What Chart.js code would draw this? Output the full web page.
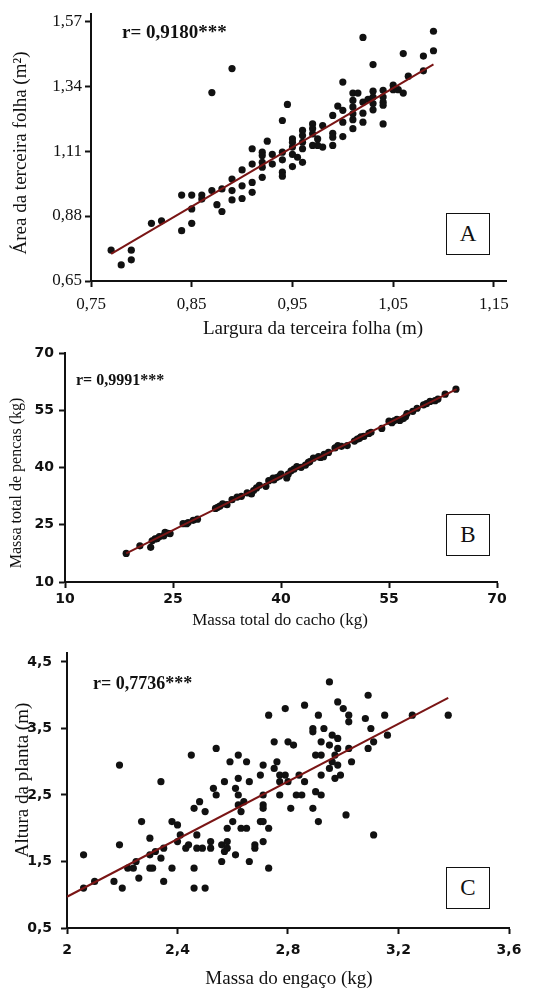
<!DOCTYPE html>
<html lang="pt">
<head>
<meta charset="UTF-8">
<title>Correlações</title>
<script src="https://cdn.jsdelivr.net/npm/chart.js@4.4.0/dist/chart.umd.min.js"></script>
<style>
  body { margin: 0; background: #fff; }
  #wrap { position: relative; width: 543px; height: 990px; font-family: 'Liberation Serif', 'Times New Roman', serif; color: #111; }
  canvas { position: absolute; left: 0; }
  .t { position: absolute; white-space: nowrap; }
  .yt { transform: translate(-50%, -50%) rotate(-90deg); }
  .xt { transform: translate(-50%, -50%); }
  .r { font-weight: bold; transform: translateY(-50%); }
  .box { position: absolute; border: 1.5px solid #111; width: 44px; height: 42px; font-size: 23px; display: flex; align-items: center; justify-content: center; box-sizing: border-box; background: #fff; }
</style>
</head>
<body>
<div id="wrap">
  <canvas id="cA" width="543" height="340" style="top:0"></canvas>
  <canvas id="cB" width="543" height="290" style="top:340px"></canvas>
  <canvas id="cC" width="543" height="360" style="top:630px"></canvas>

  <!-- títulos dos eixos e anotações -->
  <div class="t yt" style="left:20px; top:153px; font-size:19px">Área da terceira folha (m²)</div>
  <div class="t xt" style="left:313px; top:328px; font-size:19px">Largura da terceira folha (m)</div>
  <div class="t r" style="left:122px; top:32px; font-size:19px">r= 0,9180***</div>
  <div class="box" style="left:446px; top:213px">A</div>

  <div class="t yt" style="left:16px; top:483px; font-size:16px">Massa total de pencas (kg)</div>
  <div class="t xt" style="left:280px; top:620px; font-size:17px">Massa total do cacho (kg)</div>
  <div class="t r" style="left:76px; top:380px; font-size:16px">r= 0,9991***</div>
  <div class="box" style="left:446px; top:514px">B</div>

  <div class="t yt" style="left:22px; top:780px; font-size:19px">Altura da planta (m)</div>
  <div class="t xt" style="left:289px; top:978px; font-size:19px">Massa do engaço (kg)</div>
  <div class="t r" style="left:93px; top:683px; font-size:18px">r= 0,7736***</div>
  <div class="box" style="left:446px; top:867px">C</div>
</div>

<script>
// A - largura x área da terceira folha
const widthA = [0.77, 0.78, 0.79, 0.79, 0.81, 0.82, 0.84, 0.84, 0.85, 0.85, 0.85, 0.86, 0.86, 0.87, 0.87, 0.875, 0.88, 0.88,
  0.89, 0.89, 0.89, 0.89, 0.90, 0.90, 0.90, 0.91, 0.91, 0.91, 0.91, 0.92, 0.92, 0.92, 0.92, 0.92, 0.925, 0.93, 0.93,
  0.94, 0.94, 0.94, 0.94, 0.94, 0.945, 0.95, 0.95, 0.95, 0.95, 0.95, 0.955, 0.96, 0.96, 0.96, 0.96, 0.96,
  0.97, 0.97, 0.97, 0.97, 0.975, 0.975, 0.98, 0.98, 0.99, 0.99, 0.99, 0.99, 0.995, 1.00, 1.00, 1.00, 1.00,
  1.01, 1.01, 1.01, 1.01, 1.01, 1.01, 1.015, 1.02, 1.02, 1.02, 1.02, 1.025, 1.03, 1.03, 1.03, 1.03, 1.03,
  1.04, 1.04, 1.04, 1.04, 1.04, 1.05, 1.05, 1.055, 1.06, 1.06, 1.065, 1.08, 1.08, 1.09, 1.09];
const areaA = [0.759, 0.707, 0.759, 0.725, 0.854, 0.863, 0.954, 0.828, 0.954, 0.905, 0.854, 0.954, 0.940, 0.970, 1.317, 0.920, 0.976, 0.896,
  1.402, 1.011, 0.970, 0.937, 1.043, 0.987, 0.942, 1.118, 1.064, 0.999, 0.964, 1.106, 1.094, 1.070, 1.053, 1.017, 1.145, 1.098, 1.064,
  1.218, 1.106, 1.079, 1.035, 1.021, 1.275, 1.153, 1.141, 1.124, 1.098, 1.055, 1.088, 1.183, 1.165, 1.141, 1.118, 1.070,
  1.206, 1.189, 1.171, 1.130, 1.153, 1.130, 1.200, 1.124, 1.236, 1.173, 1.159, 1.130, 1.269, 1.354, 1.254, 1.212, 1.161,
  1.315, 1.289, 1.266, 1.242, 1.221, 1.189, 1.315, 1.512, 1.283, 1.244, 1.212, 1.293, 1.416, 1.322, 1.301, 1.278, 1.256,
  1.325, 1.301, 1.283, 1.272, 1.206, 1.343, 1.327, 1.327, 1.455, 1.315, 1.375, 1.446, 1.394, 1.534, 1.465];
const fitA = [{x: 0.77, y: 0.746}, {x: 1.09, y: 1.417}];
const xTicksA = [0.75, 0.85, 0.95, 1.05, 1.15];
const yTicksA = [0.65, 0.88, 1.11, 1.34, 1.57];

// B - massa do cacho x massa das pencas
const cachoB = [18.5, 20.4, 21.9, 22.1, 22.5, 22.8, 23.1, 23.7, 23.9, 24.3, 24.6, 26.4, 26.9, 27.1, 27.8, 28.4,
  30.9, 31.2, 31.5, 31.9, 32.5, 33.2, 33.9, 34.5, 35.3, 35.9, 36.2, 36.6, 37.0, 37.9, 38.3, 38.9, 39.0, 39.4, 39.8,
  40.0, 40.8, 41.0, 41.4, 41.8, 42.2, 42.8, 43.4, 43.8, 44.0, 44.5, 45.2, 45.5, 45.9, 46.0, 46.6, 47.5, 47.9, 48.4,
  49.2, 50.2, 50.6, 50.9, 51.1, 51.5, 52.2, 52.5, 54.0, 55.0, 55.4, 55.7, 56.1, 56.5, 57.0, 57.3, 57.5, 58.3,
  58.9, 59.8, 60.2, 60.7, 61.4, 61.8, 62.8, 64.3];
const pencasB = [17.5, 19.5, 19.1, 20.8, 21.3, 21.4, 21.9, 22.1, 23.0, 22.8, 22.7, 25.3, 25.3, 25.6, 26.2, 26.5,
  29.3, 29.6, 29.9, 30.5, 30.3, 31.6, 32.3, 32.5, 33.4, 33.1, 34.0, 34.7, 35.4, 35.1, 36.6, 37.3, 36.8, 37.4, 37.8,
  38.3, 37.3, 38.3, 39.2, 39.6, 40.3, 40.1, 40.7, 41.4, 41.6, 42.5, 42.9, 42.7, 42.9, 43.5, 44.0, 45.2, 45.8, 45.6,
  45.8, 47.0, 47.5, 47.7, 48.1, 48.2, 49.0, 49.3, 50.3, 52.2, 51.8, 52.3, 52.7, 52.4, 52.9, 53.4, 54.2, 54.8,
  55.6, 56.5, 56.8, 57.4, 57.6, 58.0, 59.3, 60.6];
const fitB = [{x: 18.5, y: 17.5}, {x: 64.4, y: 60.6}];
const ticksB = [10, 25, 40, 55, 70];

// C - massa do engaço x altura da planta
const engacoC = [2.06, 2.06, 2.10, 2.17, 2.19, 2.19, 2.20, 2.22, 2.24, 2.25, 2.26, 2.27, 2.30, 2.30, 2.30, 2.31, 2.32,
  2.34, 2.34, 2.35, 2.35, 2.38, 2.38, 2.40, 2.40, 2.41, 2.43, 2.44, 2.45, 2.46, 2.46, 2.46, 2.47, 2.47, 2.48, 2.49,
  2.50, 2.50, 2.52, 2.52, 2.53, 2.54, 2.54, 2.56, 2.56, 2.57, 2.57, 2.58, 2.58, 2.58, 2.59, 2.60, 2.61, 2.61,
  2.62, 2.62, 2.62, 2.62, 2.63, 2.63, 2.64, 2.65, 2.65, 2.66, 2.66, 2.68, 2.68, 2.70, 2.70, 2.71, 2.71, 2.71,
  2.71, 2.71, 2.71, 2.73, 2.73, 2.73, 2.75, 2.75, 2.76, 2.77, 2.77, 2.77, 2.79, 2.79, 2.80, 2.80, 2.81, 2.82,
  2.83, 2.84, 2.85, 2.86, 2.86, 2.89, 2.89, 2.89, 2.90, 2.90, 2.91, 2.91, 2.92, 2.92, 2.92, 2.92, 2.93, 2.95,
  2.95, 2.95, 2.96, 2.96, 2.97, 2.97, 2.98, 2.98, 2.98, 2.98, 2.99, 3.00, 3.01, 3.02, 3.02, 3.02, 3.03, 3.08,
  3.09, 3.09, 3.10, 3.11, 3.11, 3.15, 3.16, 3.25, 3.38];
const alturaC = [1.6, 1.1, 1.2, 1.2, 2.95, 1.75, 1.1, 1.4, 1.4, 1.5, 1.25, 2.1, 1.85, 1.6, 1.4, 1.4, 1.65,
  1.55, 2.7, 1.7, 1.2, 1.4, 2.1, 2.05, 1.8, 1.9, 1.7, 1.75, 3.1, 2.3, 1.4, 1.1, 1.9, 1.7, 2.4, 1.7,
  1.1, 2.25, 1.7, 1.8, 2.6, 3.2, 2.5, 1.5, 1.75, 2.7, 1.65, 1.8, 2.0, 1.7, 3.0, 2.1, 2.6, 1.6,
  3.1, 2.75, 2.5, 2.35, 2.25, 2.0, 2.4, 3.0, 2.0, 2.7, 1.5, 1.75, 1.7, 2.1, 2.8, 2.35, 2.3, 2.1,
  1.8, 2.5, 2.95, 3.7, 2.0, 1.4, 2.9, 3.3, 3.0, 2.8, 2.7, 2.5, 2.8, 3.8, 3.3, 2.7, 2.3, 3.25,
  2.5, 2.8, 2.5, 2.7, 3.85, 3.45, 3.5, 2.3, 3.1, 2.55, 3.7, 2.1, 3.3, 3.1, 2.8, 2.5, 3.5, 4.2,
  3.25, 2.9, 3.0, 3.4, 2.75, 3.1, 3.35, 3.9, 3.2, 2.95, 2.8, 3.8, 2.2, 3.6, 3.2, 3.7, 3.0, 3.65,
  4.0, 3.2, 3.5, 3.3, 1.9, 3.7, 3.4, 3.7, 3.7];
const fitC = [{x: 2.0, y: 0.97}, {x: 3.38, y: 3.96}];
const xTicksC = [2, 2.4, 2.8, 3.2, 3.6];
const yTicksC = [0.5, 1.5, 2.5, 3.5, 4.5];

const serif = "'Liberation Serif', 'Times New Roman', serif";
const sansBold = {family: "'DejaVu Sans', sans-serif", size: 14, weight: 'bold'};
const fmt = v => String(v).replace('.', ',');

function pairs(xs, ys) {
  return xs.map((x, i) => ({x: x, y: ys[i]}));
}

function axis(min, max, ticks, font, tickLen, pad, fitFn) {
  return {
    type: 'linear', min: min, max: max,
    afterBuildTicks: s => { s.ticks = ticks.map(v => ({value: v})); },
    afterFit: fitFn,
    grid: { drawOnChartArea: false, color: '#111', tickColor: '#111', tickWidth: 2, tickLength: tickLen },
    border: { display: true, color: '#111', width: 2 },
    ticks: { color: '#111', font: font, padding: pad, callback: v => fmt(v) }
  };
}

function makeChart(id, xs, ys, fit, cfg) {
  return new Chart(document.getElementById(id), {
    type: 'scatter',
    data: {
      datasets: [
        { data: fit, showLine: true, borderColor: '#7a1515', borderWidth: 2, pointRadius: 0, order: 0 },
        { data: pairs(xs, ys), backgroundColor: '#111', borderWidth: 0, pointRadius: 3.6, order: 1 }
      ]
    },
    options: {
      responsive: false,
      animation: false,
      events: [],
      layout: { padding: { top: cfg.top, right: cfg.right, left: 0, bottom: 0 } },
      plugins: { legend: { display: false }, tooltip: { enabled: false } },
      scales: {
        x: axis(cfg.x[0], cfg.x[1], cfg.xTicks, cfg.font, 6, cfg.xPad, s => { s.height = cfg.xH; }),
        y: axis(cfg.y[0], cfg.y[1], cfg.yTicks, cfg.font, 6, cfg.yPad, s => { s.width = cfg.yW; })
      }
    }
  });
}

makeChart('cA', widthA, areaA, fitA, {
  x: [0.75, 1.162], y: [0.65, 1.595], xTicks: xTicksA, yTicks: yTicksA,
  font: {family: serif, size: 17}, top: 14, right: 37, xH: 59, yW: 91, xPad: 7, yPad: 3
});

makeChart('cB', cachoB, pencasB, fitB, {
  x: [10, 70], y: [10, 70], xTicks: ticksB, yTicks: ticksB,
  font: sansBold, top: 11, right: 46, xH: 48, yW: 65, xPad: 3, yPad: 5
});

makeChart('cC', engacoC, alturaC, fitC, {
  x: [2, 3.6], y: [0.5, 4.635], xTicks: xTicksC, yTicks: yTicksC,
  font: sansBold, top: 23, right: 34, xH: 62, yW: 67, xPad: 8, yPad: 9
});
</script>
</body>
</html>
